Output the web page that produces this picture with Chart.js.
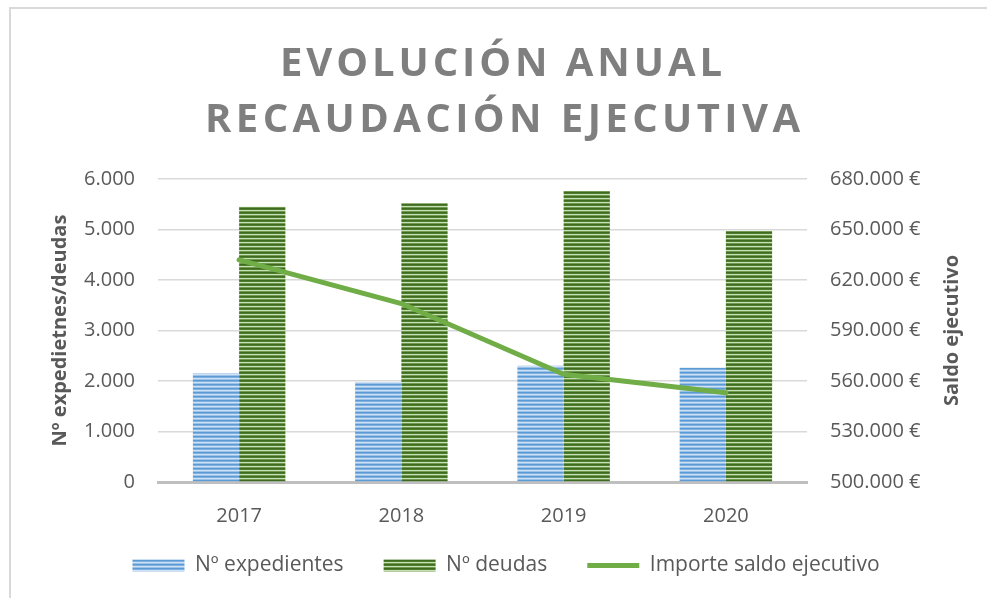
<!DOCTYPE html>
<html>
<head>
<meta charset="utf-8">
<script src="https://cdn.jsdelivr.net/npm/chart.js@4.4.1/dist/chart.umd.min.js"></script>
<style>
  html, body { margin: 0; padding: 0; background: #ffffff; overflow: hidden; }
  #wrap { position: relative; width: 987px; height: 598px; }
  #frame { position: absolute; left: 9px; top: 7px; width: 1100px; height: 700px; border-left: 2px solid #d9d9d9; border-top: 2px solid #d9d9d9; }
  canvas { position: absolute; left: 0; top: 0; }
</style>
</head>
<body>
<div id="wrap">
  <div id="frame"></div>
  <canvas id="c" width="987" height="598"></canvas>
</div>
<script>
const titleLines = ['EVOLUCIÓN ANUAL', 'RECAUDACIÓN EJECUTIVA'];
const categories = ['2017', '2018', '2019', '2020'];
const expedientes = [2150, 1980, 2300, 2260];
const deudas = [5450, 5520, 5760, 4970];
const saldo = [632000, 606000, 564000, 553000];
const seriesNames = ['Nº expedientes', 'Nº deudas', 'Importe saldo ejecutivo'];
const leftAxisTitle = 'Nº expedietnes/deudas';
const rightAxisTitle = 'Saldo ejecutivo';

function fmtThousands(v) {
  const s = Math.round(v).toString();
  return s.replace(/\B(?=(\d{3})+(?!\d))/g, '.');
}

function stripePattern(rows) {
  const c = document.createElement('canvas');
  c.width = 8; c.height = rows.length;
  const x = c.getContext('2d');
  rows.forEach((col, i) => { x.fillStyle = col; x.fillRect(0, i, 8, 1); });
  return x.createPattern(c, 'repeat');
}
const ctx = document.getElementById('c').getContext('2d');
const bluePat = stripePattern(['#5b9bd5', '#7fb0e0', '#cfe2f5', '#9cc2e8']);
const greenPat = stripePattern(['#3e6b20', '#4f7d2d', '#c5e0b4', '#6f9a4f']);

const FONT = "'Open Sans', 'Noto Sans', sans-serif";
const TXT = '#595959';

const titlePlugin = {
  id: 'spacedTitle',
  afterLayout(chart) {
    const lg = chart.legend;
    if (lg) {
      const shift = lg.top - 515;
      lg.top -= shift;
      lg.bottom -= shift;
    }
  },
  afterDraw(chart) {
    const c = chart.ctx;
    c.save();
    c.fillStyle = '#7f7f7f';
    c.font = "bold 40px " + FONT;
    c.textAlign = 'left';
    c.textBaseline = 'alphabetic';
    const specs = [{ t: titleLines[0], x0: 280, x1: 722, y: 76 }, { t: titleLines[1], x0: 205, x1: 800, y: 132 }];
    specs.forEach(s => {
      c.letterSpacing = '0px';
      const w = c.measureText(s.t).width;
      const n = [...s.t].length;
      const sp = ((s.x1 - s.x0) - w) / (n - 1);
      c.letterSpacing = sp + 'px';
      c.fillText(s.t, s.x0, s.y);
    });
    c.restore();
    const ca = chart.chartArea;
    c.save();
    c.fillStyle = TXT;
    c.font = "bold 20px " + FONT;
    c.textAlign = 'center';
    c.textBaseline = 'middle';
    c.translate(952, (ca.top + ca.bottom) / 2);
    c.rotate(-Math.PI / 2);
    c.fillText(rightAxisTitle, 0, 0);
    c.restore();
  }
};

new Chart(ctx, {
  type: 'bar',
  data: {
    labels: categories,
    datasets: [
      { label: seriesNames[0], data: expedientes, backgroundColor: bluePat, borderWidth: 0, yAxisID: 'y', order: 2, pointStyle: 'rect',
        categoryPercentage: 0.57, barPercentage: 1.0 },
      { label: seriesNames[1], data: deudas, backgroundColor: greenPat, borderWidth: 0, yAxisID: 'y', order: 2, pointStyle: 'rect',
        categoryPercentage: 0.57, barPercentage: 1.0 },
      { type: 'line', label: seriesNames[2], data: saldo, borderColor: '#70ad47', backgroundColor: '#70ad47', borderWidth: 5,
        borderCapStyle: 'round', borderJoinStyle: 'round', pointRadius: 0, pointHoverRadius: 0, tension: 0, yAxisID: 'y2', order: 1, pointStyle: 'line' }
    ]
  },
  options: {
    responsive: false,
    animation: false,
    layout: { padding: { top: 179, left: 48, right: 23, bottom: -7 } },
    plugins: {
      title: { display: false },
      tooltip: { enabled: false },
      legend: {
        position: 'bottom',
        labels: {
          usePointStyle: true,
          pointStyleWidth: 52,
          boxWidth: 52,
          boxHeight: 12,
          padding: 40,
          color: TXT,
          font: { family: FONT, size: 21 },
          sort: (a, b) => a.datasetIndex - b.datasetIndex
        }
      }
    },
    scales: {
      x: {
        grid: { display: true, drawOnChartArea: false, drawTicks: false, color: 'rgba(0,0,0,0)' },
        border: { display: true, color: '#bfbfbf', width: 3 },
        ticks: { color: TXT, font: { family: FONT, size: 20 }, padding: 22 },
        afterFit: s => { s.height = 52; }
      },
      y: {
        position: 'left',
        min: 0, max: 6000,
        ticks: { stepSize: 1000, color: TXT, font: { family: FONT, size: 20 }, padding: 23, callback: v => fmtThousands(v) },
        grid: { color: '#d9d9d9', lineWidth: 1.5, drawTicks: false },
        border: { display: false },
        title: { display: true, text: leftAxisTitle, color: TXT, font: { family: FONT, size: 20, weight: 'bold' }, padding: { top: 0, bottom: 0 } },
        afterFit: s => { s.width = 110; }
      },
      y2: {
        position: 'right',
        min: 500000, max: 680000,
        ticks: { stepSize: 30000, color: TXT, font: { family: FONT, size: 20 }, padding: 23, callback: v => fmtThousands(v) + ' €' },
        grid: { display: false, drawTicks: false },
        border: { display: false },
        title: { display: false },
        afterFit: s => { s.width = 157; }
      }
    }
  },
  plugins: [titlePlugin]
});
</script>
</body>
</html>
